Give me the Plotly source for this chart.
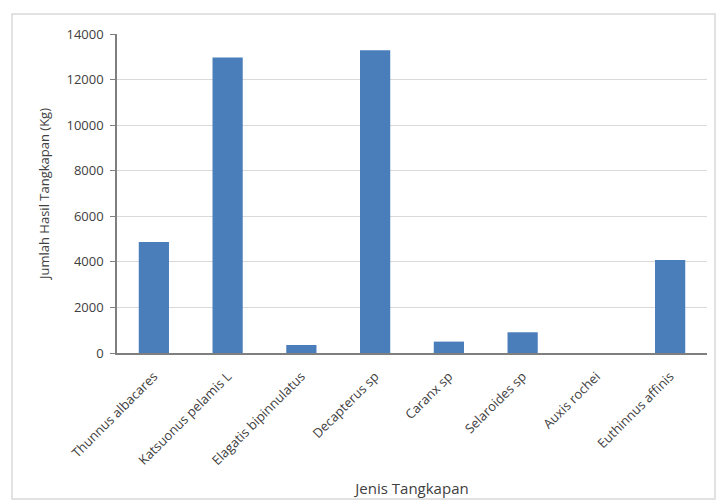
import plotly.graph_objects as go

# Catch per species (kg)
species = [
    "Thunnus albacares",
    "Katsuonus pelamis L",
    "Elagatis bipinnulatus",
    "Decapterus sp",
    "Caranx sp",
    "Selaroides sp",
    "Auxis rochei",
    "Euthinnus affinis",
]
catch_kg = [4870, 12970, 350, 13290, 500, 910, 0, 4080]

y_ticks = [0, 2000, 4000, 6000, 8000, 10000, 12000, 14000]

fig = go.Figure(
    go.Bar(
        x=species,
        y=catch_kg,
        marker=dict(color="#4A7EBB", line=dict(width=0)),
    )
)

family = "Open Sans, Liberation Sans, sans-serif"
text_color = "#404040"

fig.update_layout(
    width=718,
    height=501,
    margin=dict(l=117, r=11, t=34, b=148),
    paper_bgcolor="white",
    plot_bgcolor="white",
    bargap=0.59,
    showlegend=False,
    font=dict(family=family, size=12, color=text_color),
    xaxis=dict(
        automargin=False,
        tickangle=-45,
        showline=True,
        linecolor="#7f7f7f",
        linewidth=1.5,
        ticks="",
        ticklabelstandoff=9,
        tickfont=dict(family=family, size=13, color=text_color),
        title=dict(text="Jenis Tangkapan", font=dict(family=family, size=15, color=text_color), standoff=16),
    ),
    yaxis=dict(
        automargin=False,
        range=[0, 14000],
        tickvals=y_ticks,
        ticktext=[str(v) for v in y_ticks],
        showline=True,
        linecolor="#7f7f7f",
        linewidth=1.5,
        ticks="outside",
        ticklen=5,
        tickcolor="#7f7f7f",
        ticklabelstandoff=4,
        showgrid=True,
        gridcolor="#d9d9d9",
        gridwidth=1,
        zeroline=False,
        tickfont=dict(family=family, size=13, color=text_color),
        title=dict(text="Jumlah Hasil Tangkapan (Kg)", font=dict(family=family, size=13, color=text_color), standoff=14),
    ),
    shapes=[
        dict(
            type="rect",
            xref="paper",
            yref="paper",
            x0=-105 / 590,
            x1=1 + 8 / 590,
            y0=-146 / 319,
            y1=1 + 20 / 319,
            line=dict(color="#d9d9d9", width=1.5),
            fillcolor="rgba(0,0,0,0)",
            layer="below",
        )
    ],
)

fig.write_html("out.html")
